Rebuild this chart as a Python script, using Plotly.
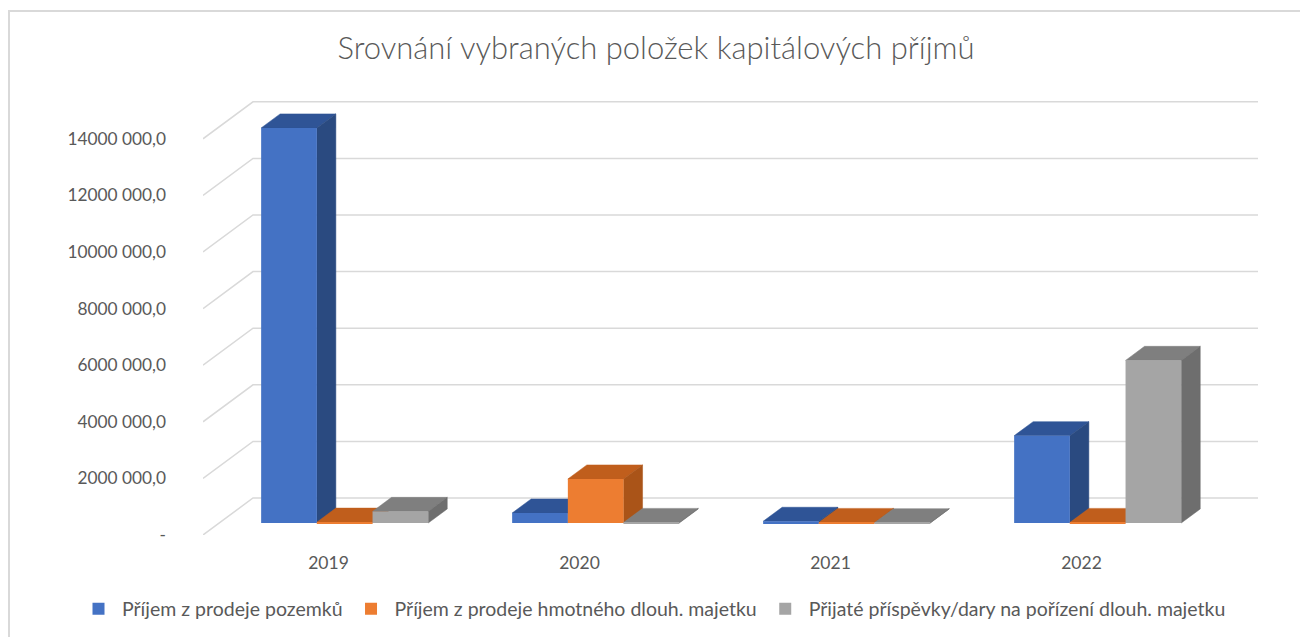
import plotly.graph_objects as go

# ---------------- data ----------------
years = ["2019", "2020", "2021", "2022"]
series_names = [
    "Příjem z prodeje pozemků",
    "Příjem z prodeje hmotného dlouh. majetku",
    "Přijaté příspěvky/dary na pořízení dlouh. majetku",
]
pozemky = [13960000, 353000, 60000, 3085000]
hmotny_majetek = [30000, 1555000, 20000, 20000]
prispevky = [410000, 20000, 10000, 5746000]
tick_values = [0, 2000000, 4000000, 6000000, 8000000, 10000000, 12000000, 14000000]
tick_labels = ["-", "2000 000,0", "4000 000,0", "6000 000,0", "8000 000,0",
               "10000 000,0", "12000 000,0", "14000 000,0"]

# ---------------- styling / geometry ----------------
front_colors = ["#4472C4", "#ED7D31", "#A5A5A5"]
top_colors = ["#2F5496", "#C05E1C", "#7F7F7F"]
side_colors = ["#2A4A80", "#AA5418", "#6E6E6E"]
grid_color = "#D9D9D9"
text_color = "#595959"
FONT = "Lato"

OFF = 8  # page body margin
W, H = 1308 - OFF, 637 - OFF
L_PX, R_PX, T_PX, B_PX = 203 - OFF, 1258 - OFF, 100 - OFF, 535 - OFF
SLOT_PX = 251.0
VAL_PER_PX = 2000000 / 56.6
DEPTH_X = 50 / SLOT_PX            # full floor depth in x units
DEPTH_Y = 37 * VAL_PER_PX         # full floor depth in value units
D_FRONT = 0.324                   # depth fraction of bar front faces
D_BAR = 0.38                      # depth fraction of the bars
BAR_W = 55.7 / SLOT_PX

PW, PH = R_PX - L_PX, B_PX - T_PX
x_max = PW / SLOT_PX
y_max = PH * VAL_PER_PX

series = [pozemky, hmotny_majetek, prispevky]

fig = go.Figure()
shapes = []

# outer chart border
shapes.append(dict(type="rect", xref="paper", yref="paper",
                   x0=(9 - OFF - L_PX) / PW, x1=(1330 - L_PX) / PW,
                   y0=(B_PX - 700) / PH, y1=(B_PX - (11 - OFF)) / PH,
                   line=dict(color="#D9D9D9", width=2), layer="below"))

# back-wall / side-wall gridlines
for v in tick_values:
    path = f"M 0,{v} L {DEPTH_X},{v + DEPTH_Y} L {x_max},{v + DEPTH_Y}"
    shapes.append(dict(type="path", path=path, xref="x", yref="y", layer="below",
                       line=dict(color=grid_color, width=1.5)))

base = D_FRONT * DEPTH_Y
shift_x = D_FRONT * DEPTH_X
ddx = D_BAR * DEPTH_X
ddy = D_BAR * DEPTH_Y

# top and side faces, painted left to right
for i in range(len(years)):
    for k, vals in enumerate(series):
        v = vals[i]
        xc = i + 0.5 + (k - 1) * BAR_W + shift_x
        xl, xr = xc - BAR_W / 2, xc + BAR_W / 2
        top = (f"M {xl},{base + v} L {xr},{base + v} L {xr + ddx},{base + v + ddy} "
               f"L {xl + ddx},{base + v + ddy} Z")
        side = (f"M {xr},{base} L {xr + ddx},{base + ddy} L {xr + ddx},{base + v + ddy} "
                f"L {xr},{base + v} Z")
        shapes.append(dict(type="path", path=top, xref="x", yref="y", layer="below",
                           fillcolor=top_colors[k], line=dict(color=top_colors[k], width=0.5)))
        shapes.append(dict(type="path", path=side, xref="x", yref="y", layer="below",
                           fillcolor=side_colors[k], line=dict(color=side_colors[k], width=0.5)))

# front faces as bars
for k, vals in enumerate(series):
    xs = [i + 0.5 + (k - 1) * BAR_W + shift_x for i in range(len(years))]
    fig.add_trace(go.Bar(
        x=xs, y=vals, base=[base] * len(vals), width=BAR_W,
        name=series_names[k], marker=dict(color=front_colors[k], line=dict(width=0)),
        customdata=years, hovertemplate="%{customdata}: %{y:,.1f}<extra>%{fullData.name}</extra>",
    ))

fig.update_layout(
    width=W, height=H,
    margin=dict(l=L_PX, r=W - R_PX, t=T_PX, b=H - B_PX, autoexpand=False),
    paper_bgcolor="white", plot_bgcolor="rgba(0,0,0,0)",
    barmode="overlay",
    shapes=shapes,
    font=dict(family=FONT, color=text_color, size=17.5),
    title=dict(text="Srovnání vybraných položek kapitálových příjmů",
               x=(656 - OFF) / W, xref="container", xanchor="center",
               y=1 - (48 - OFF) / H, yref="container", yanchor="middle",
               font=dict(family=FONT, size=31, color=text_color, weight=300)),
    xaxis=dict(range=[0, x_max], tickvals=[i + 0.5 for i in range(len(years))],
               ticktext=years, showgrid=False, zeroline=False, showline=False,
               ticks="", ticklabelstandoff=15, fixedrange=True,
               tickfont=dict(size=17.5, color=text_color)),
    yaxis=dict(range=[0, y_max], tickvals=tick_values, ticktext=tick_labels,
               showgrid=False, zeroline=False, showline=False, ticks="",
               ticklabelstandoff=36, fixedrange=True,
               tickfont=dict(size=17.3, color=text_color)),
    legend=dict(orientation="h", xref="paper", x=(67 - L_PX) / PW, xanchor="left",
                yref="paper", y=(B_PX - (609 - OFF)) / PH, yanchor="middle",
                font=dict(size=19.5, color=text_color), itemwidth=37),
    showlegend=True,
)

fig.write_html("out.html")
